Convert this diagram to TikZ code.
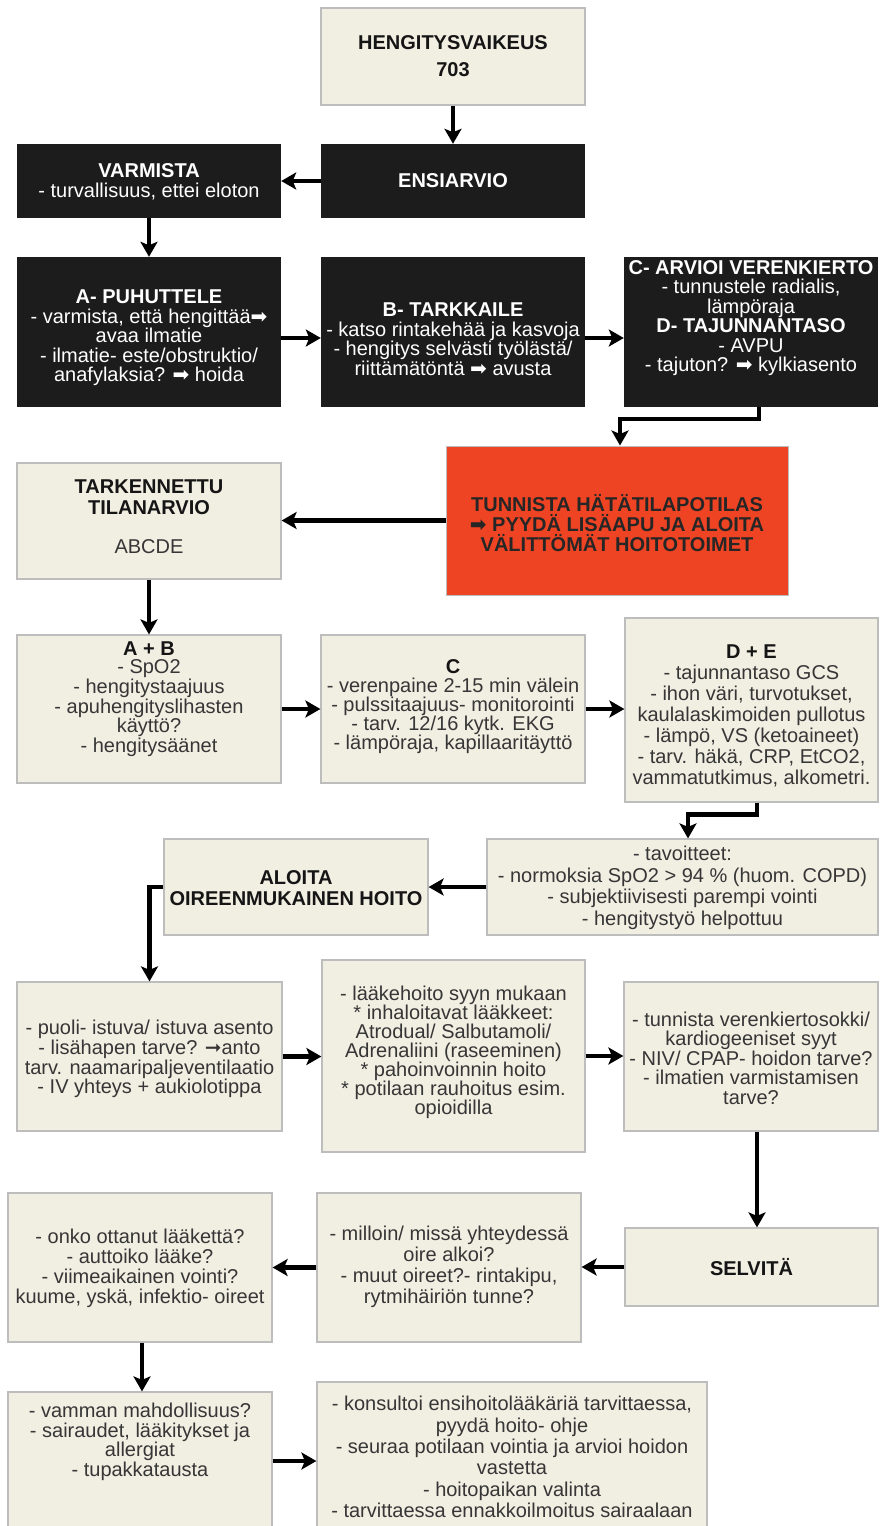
\documentclass[tikz,border=0pt]{standalone}
\usepackage{fontspec}
\setmainfont{Liberation Sans}
\newfontfamily\sym{DejaVu Sans}
\usetikzlibrary{arrows.meta}
\definecolor{beige}{HTML}{F1EEE2}
\definecolor{bord}{HTML}{BDBDBD}
\definecolor{blk}{HTML}{1C1C1C}
\definecolor{redbox}{HTML}{EE4423}
\definecolor{txt}{HTML}{363636}
\definecolor{hdc}{HTML}{151515}
\newcommand{\ar}{{\sym ➡}}
\newcommand{\hd}[1]{\textcolor{hdc}{\textbf{#1}}}
\begin{document}
\begin{tikzpicture}[x=1pt,y=-1pt,
  sz/.style 2 args={minimum width=#1pt, minimum height=#2pt},
  lbox/.style={rectangle, draw=bord, line width=1.2pt, fill=beige, inner sep=0pt},
  dbox/.style={rectangle, fill=blk, inner sep=0pt},
  rbox/.style={rectangle, draw=bord, line width=1pt, fill=redbox, inner sep=0pt},
  tx/.style={align=center, inner sep=0pt, text=txt, font=\fontsize{20}{#1}\selectfont},
  tx/.default=20,
  wtx/.style={align=center, inner sep=0pt, text=white, font=\fontsize{20}{19.5}\selectfont},
  rtx/.style={align=center, inner sep=0pt, text=black!85, font=\fontsize{20}{20}\selectfont},
  arr/.style={line width=4.5pt, -{Stealth[length=15pt,width=17pt,inset=3.5pt]}}
]
\fill[white] (0,0) rectangle (880,1526);
\useasboundingbox (0,0) rectangle (880,1526);

% boxes
\node[lbox, sz={264}{97}]  (heng)  at (453,56.5) {};
\node[dbox, sz={264}{74}]  (ensi)  at (453,181) {};
\node[dbox, sz={264}{74}]  (varm)  at (149,181) {};
\node[dbox, sz={264}{150}] (pa)    at (149,332) {};
\node[dbox, sz={264}{150}] (pb)    at (453,332) {};
\node[dbox, sz={254}{150}] (pc)    at (751,332) {};
\node[rbox, sz={342}{149}] (red)   at (617,520.5) {};
\node[lbox, sz={264}{116}] (tark)  at (149,521) {};
\node[lbox, sz={264}{148}] (ab)    at (149,709) {};
\node[lbox, sz={264}{148}] (cc)    at (453,709) {};
\node[lbox, sz={253}{184}] (de)    at (751.5,710) {};
\node[lbox, sz={391}{96}]  (tav)   at (682.5,887) {};
\node[lbox, sz={264}{96}]  (aloita) at (296,887) {};
\node[lbox, sz={265}{149}] (puoli) at (149.5,1056.5) {};
\node[lbox, sz={263}{192}] (laake) at (453.5,1056) {};
\node[lbox, sz={254}{149}] (tunn)  at (751,1056.5) {};
\node[lbox, sz={253}{78}]  (selv)  at (751.5,1267) {};
\node[lbox, sz={264}{149}] (mill)  at (449,1267.5) {};
\node[lbox, sz={264}{149}] (onko)  at (140,1267.5) {};
\node[lbox, sz={264}{138}] (vamm)  at (140,1461) {};
\node[lbox, sz={390}{148}] (kons)  at (512,1456) {};

% texts
\node[tx] (hengt) at (453,56.5) {\hd{HENGITYSVAIKEUS}\\[7pt]\hd{703}};
\node[wtx] (ensit) at (453,181) {\textbf{ENSIARVIO}};
\node[wtx] (varmt) at (149,182) {\textbf{VARMISTA}\\- turvallisuus, ettei eloton};
\node[wtx] (pat) at (149,338) {\textbf{A- PUHUTTELE}\\- varmista, että hengittää\ar\\avaa ilmatie\\- ilmatie- este/obstruktio/\\anafylaksia? \ar{} hoida};
\node[wtx] (pbt) at (453,339) {\textbf{B- TARKKAILE}\\- katso rintakehää ja kasvoja\\- hengitys selvästi työlästä/\\riittämätöntä \ar{} avusta};
\node[wtx] (pct) at (751,318) {\textbf{C- ARVIOI VERENKIERTO}\\- tunnustele radialis,\\lämpöraja\\\textbf{D- TAJUNNANTASO}\\- AVPU\\- tajuton? \ar{} kylkiasento};
\node[rtx] (redt) at (617,523) {\textbf{TUNNISTA HÄTÄTILAPOTILAS}\\\textbf{\ar{} PYYDÄ LISÄAPU JA ALOITA}\\\textbf{VÄLITTÖMÄT HOITOTOIMET}};
\node[tx=21] (tarkt) at (149,517) {\hd{TARKENNETTU}\\\hd{TILANARVIO}\\[18pt]ABCDE};
\node[tx=18.5] (abt) at (149,699) {\hd{A + B}\\- SpO2\\- hengitystaajuus\\- apuhengityslihasten\\käyttö?\\- hengitysäänet};
\node[tx=19] (cct) at (453,707) {\hd{C}\\- verenpaine 2-15 min välein\\- pulssitaajuus- monitorointi\\- tarv. 12/16 kytk. EKG\\- lämpöraja, kapillaaritäyttö};
\node[tx=21] (det) at (751.5,716) {\hd{D + E}\\- tajunnantaso GCS\\- ihon väri, turvotukset,\\kaulalaskimoiden pullotus\\- lämpö, VS (ketoaineet)\\- tarv. häkä, CRP, EtCO2,\\vammatutkimus, alkometri.};
\node[tx=21.5] (tavt) at (682.5,888) {- tavoitteet:\\- normoksia SpO2 > 94 \% (huom. COPD)\\- subjektiivisesti parempi vointi\\- hengitystyö helpottuu};
\node[tx=21] (aloitat) at (296,888) {\hd{ALOITA}\\\hd{OIREENMUKAINEN HOITO}};
\node[tx=19.7] (puolit) at (149.5,1059) {- puoli- istuva/ istuva asento\\- lisähapen tarve? {\sym ➞}anto\\tarv. naamaripaljeventilaatio\\- IV yhteys + aukiolotippa};
\node[tx=19] (laaket) at (453.5,1052) {- lääkehoito syyn mukaan\\* inhaloitavat lääkkeet:\\Atrodual/ Salbutamoli/\\Adrenaliini (raseeminen)\\* pahoinvoinnin hoito\\* potilaan rauhoitus esim.\\opioidilla};
\node[tx=19.5] (tunnt) at (751,1058) {- tunnista verenkiertosokki/\\kardiogeeniset syyt\\- NIV/ CPAP- hoidon tarve?\\- ilmatien varmistamisen\\tarve?};
\node[tx] (selvt) at (751.5,1267) {\hd{SELVITÄ}};
\node[tx=21] (millt) at (449,1267) {- milloin/ missä yhteydessä\\oire alkoi?\\- muut oireet?- rintakipu,\\rytmihäiriön tunne?};
\node[tx=20] (onkot) at (140,1268) {- onko ottanut lääkettä?\\- auttoiko lääke?\\- viimeaikainen vointi?\\kuume, yskä, infektio- oireet};
\node[tx=19.5] (vammt) at (140,1442) {- vamman mahdollisuus?\\- sairaudet, lääkitykset ja\\allergiat\\- tupakkatausta};
\node[tx=21.4] (konst) at (512,1457) {- konsultoi ensihoitolääkäriä tarvittaessa,\\pyydä hoito- ohje\\- seuraa potilaan vointia ja arvioi hoidon\\vastetta\\- hoitopaikan valinta\\- tarvittaessa ennakkoilmoitus sairaalaan};

% connectors
\draw[arr] (heng.south) -- (ensi.north);
\draw[arr] (ensi.west) -- (varm.east);
\draw[arr] (varm.south) -- (pa.north);
\draw[arr] ([yshift=-6pt]pa.east) -- ([yshift=-6pt]pb.west);
\draw[arr] ([yshift=-6pt]pb.east) -- ([yshift=-6pt]pc.west);
\draw[arr] ([xshift=8pt]pc.south) -- ++(0,12) -| ([xshift=3pt]red.north);
\draw[arr] (red.west) -- (red.west -| tark.east);
\draw[arr] (tark.south) -- (ab.north);
\draw[arr] (ab.east) -- (cc.west);
\draw[arr] (cc.east) -- (cc.east -| de.west);
\draw[arr] ([xshift=5.5pt]de.south) -- ++(0,12) -| ([xshift=5.5pt]tav.north);
\draw[arr] (tav.west) -- (aloita.east);
\draw[arr] (aloita.west) -| (puoli.north);
\draw[arr] (puoli.east) -- (puoli.east -| laake.west);
\draw[arr] (laake.east) -- (laake.east -| tunn.west);
\draw[arr] ([xshift=6pt]tunn.south) -- ([xshift=6pt]tunn.south |- selv.north);
\draw[arr] (selv.west) -- (selv.west -| mill.east);
\draw[arr] (mill.west) -- (onko.east);
\draw[arr] ([xshift=2pt]onko.south) -- ([xshift=2pt]vamm.north);
\draw[arr] (vamm.east) -- (vamm.east -| kons.west);
\end{tikzpicture}
\end{document}
